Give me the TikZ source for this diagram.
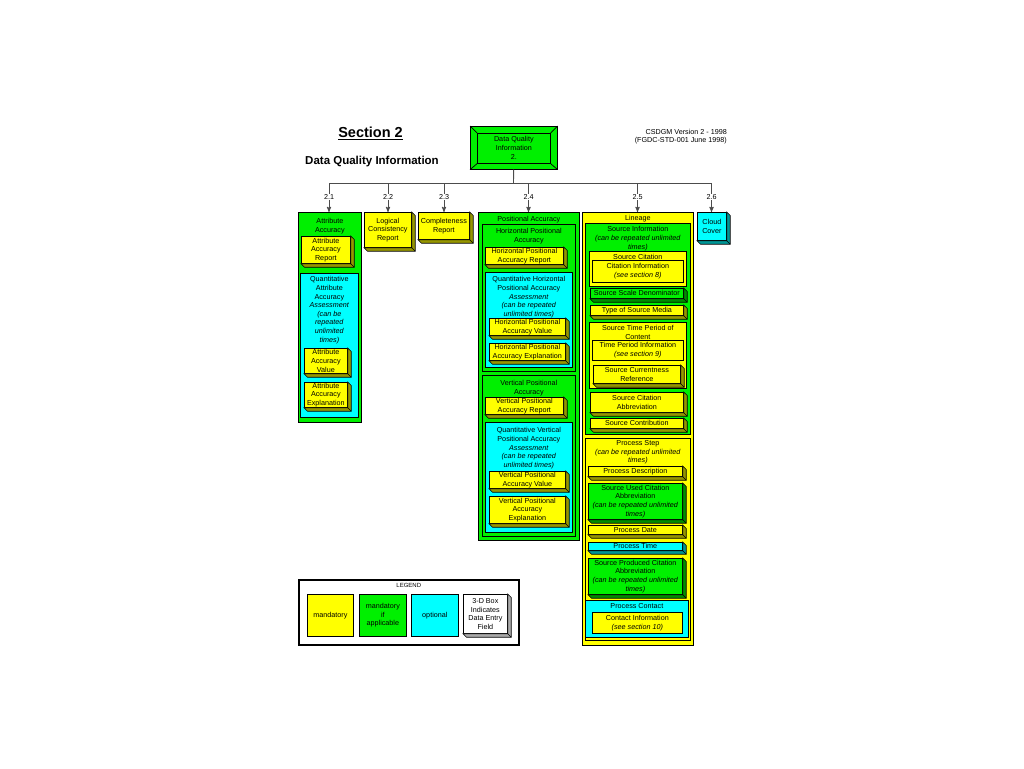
\documentclass[tikz,border=0pt]{standalone}
\usepackage{fontspec}
\setmainfont{Liberation Sans}
\usetikzlibrary{arrows}
\definecolor{dqyellow}{RGB}{255,255,0}
\definecolor{dqgreen}{RGB}{0,240,0}
\definecolor{dqcyan}{RGB}{0,255,255}
\definecolor{yshade}{RGB}{150,150,0}
\definecolor{gshade}{RGB}{0,140,0}
\definecolor{cshade}{RGB}{0,150,150}
\definecolor{wshade}{RGB}{170,170,170}
\newcommand{\dqfont}{\fontsize{7.2}{8.6}\selectfont}

\begin{document}
\begin{tikzpicture}[x=1pt,y=-1pt,
    box/.style={rectangle,draw,line width=0.7pt,inner sep=0pt,anchor=north west,
		align=center,font=\dqfont},
    field/.style={box,fill=#1},
    group/.style={box,fill=#1},
% Title of a group box
    title/.style={anchor=north,inner sep=0pt,align=center,font=\dqfont,yshift=#1},
    title/.default={-4pt},
    num/.style={inner sep=0.5pt,font=\dqfont},
    bus/.style={draw=black!70,line width=0.9pt},
    >=stealth'
    ]
    \useasboundingbox (0,0) rectangle (1024,768);

    % Header
    \node [font=\fontsize{14.5}{17}\selectfont\bfseries] (sect) at (370.5,133) {\underline{Section 2}};
    \node [font=\fontsize{11.5}{14}\selectfont\bfseries] (dqhead) at (372,162) {Data Quality Information};
    \node [font=\fontsize{7.2}{8}\selectfont,align=right,anchor=east,inner sep=0pt] (ver) at (727,137)
		{CSDGM Version 2 - 1998\\(FGDC-STD-001 June 1998)};
    \node [box,fill=dqgreen,minimum width=87pt,minimum height=43pt] (dqi) at (470,126) {};
    \node [box,fill=dqgreen,minimum width=73pt,minimum height=30pt,font=\fontsize{7.2}{9}\selectfont] (dqii) at (477,133)
		{Data Quality\\Information\\2.};
    \foreach \a in {north west,north east,south west,south east}
      \draw [line width=0.7pt] (dqi.\a) -- (dqii.\a);

    % 2.1 Attribute Accuracy
    \node [group=dqgreen,minimum width=63pt,minimum height=210pt,
		label={[title=-6.5pt]north:Attribute\\Accuracy}] (aa) at (298,212) {};
    \node [field=dqyellow,minimum width=49pt,minimum height=27pt] (aar) at (301,236) {Attribute\\Accuracy\\Report};
    \node [group=dqcyan,minimum width=58pt,minimum height=144pt,
		label={[title=-3.5pt]north:Quantitative\\Attribute\\Accuracy\\\textit{Assessment}\\\textit{(can be}\\\textit{repeated}\\\textit{unlimited}\\\textit{times)}}] (qaa) at (300,273) {};
    \node [field=dqyellow,minimum width=43pt,minimum height=25pt] (aav) at (304,348) {Attribute\\Accuracy\\Value};
    \node [field=dqyellow,minimum width=43pt,minimum height=25pt] (aae) at (304,382) {Attribute\\Accuracy\\Explanation};

    % 2.2 and 2.3
    \node [field=dqyellow,minimum width=47pt,minimum height=35pt] (lcr) at (364,212) {Logical\\Consistency\\Report};
    \node [field=dqyellow,minimum width=51pt,minimum height=27pt] (cr) at (418,212) {Completeness\\Report};

    % 2.4 Positional Accuracy
    \node [group=dqgreen,minimum width=101pt,minimum height=328pt,
		label={[title=-4.5pt]north:Positional Accuracy}] (pa) at (478,212) {};
    \node [group=dqgreen,minimum width=93pt,minimum height=147pt,
		label={[title=-4.5pt]north:Horizontal Positional\\Accuracy}] (hpa) at (482,224) {};
    \node [field=dqyellow,minimum width=78pt,minimum height=17pt] (hpar) at (485,247) {Horizontal Positional\\Accuracy Report};
    \node [group=dqcyan,minimum width=87pt,minimum height=95pt,
		label={[title=-4.5pt]north:Quantitative Horizontal\\Positional Accuracy\\\textit{Assessment}\\\textit{(can be repeated}\\\textit{unlimited times)}}] (hqa) at (485,272) {};
    \node [field=dqyellow,minimum width=76pt,minimum height=17pt] (hpav) at (489,318) {Horizontal Positional\\Accuracy Value};
    \node [field=dqyellow,minimum width=76pt,minimum height=17pt] (hpae) at (489,343) {Horizontal Positional\\Accuracy Explanation};
    \node [group=dqgreen,minimum width=93pt,minimum height=161pt,
		label={[title=-5.5pt]north:Vertical Positional\\Accuracy}] (vpa) at (482,375) {};
    \node [field=dqyellow,minimum width=78pt,minimum height=17pt] (vpar) at (485,397) {Vertical Positional\\Accuracy Report};
    \node [group=dqcyan,minimum width=87pt,minimum height=110pt,
		label={[title=-5.5pt]north:Quantitative Vertical\\Positional Accuracy\\\textit{Assessment}\\\textit{(can be repeated}\\\textit{unlimited times)}}] (vqa) at (485,422) {};
    \node [field=dqyellow,minimum width=76pt,minimum height=17pt] (vpav) at (489,471) {Vertical Positional\\Accuracy Value};
    \node [field=dqyellow,minimum width=76pt,minimum height=27pt] (vpae) at (489,496) {Vertical Positional\\Accuracy\\Explanation};

    % 2.5 Lineage
    \node [group=dqyellow,minimum width=111pt,minimum height=433pt,
		label={[title=-3.5pt]north:Lineage}] (lin) at (582,212) {};
    \node [group=dqgreen,minimum width=105pt,minimum height=211pt,
		label={[title=-3.5pt]north:Source Information\\\textit{(can be repeated unlimited}\\\textit{times)}}] (si) at (585,223) {};
    \node [group=dqyellow,minimum width=97pt,minimum height=35pt,
		label={[title=-3.5pt]north:Source Citation}] (sc) at (589,251) {};
    \node [box,fill=dqyellow,minimum width=91pt,minimum height=22pt] (ci) at (592,260) {Citation Information\\\textit{(see section 8)}};
    \node [field=dqgreen,minimum width=93pt,minimum height=10pt] (ssd) at (590,288) {Source Scale Denominator};
    \node [field=dqyellow,minimum width=93pt,minimum height=10pt] (tsm) at (590,305) {Type of Source Media};
    \node [group=dqyellow,minimum width=97pt,minimum height=66pt,
		label={[title=-3.5pt]north:Source Time Period of\\Content}] (stp) at (589,322) {};
    \node [box,fill=dqyellow,minimum width=91pt,minimum height=20pt] (tpi) at (592,340) {Time Period Information\\\textit{(see section 9)}};
    \node [field=dqyellow,minimum width=87pt,minimum height=18pt] (scr) at (593,365) {Source Currentness\\Reference};
    \node [field=dqyellow,minimum width=93pt,minimum height=20pt] (sca) at (590,392) {Source Citation\\Abbreviation};
    \node [field=dqyellow,minimum width=93pt,minimum height=10pt] (scn) at (590,418) {Source Contribution};
    \node [group=dqyellow,minimum width=105pt,minimum height=202pt,
		label={[title=-2.5pt]north:Process Step\\\textit{(can be repeated unlimited}\\\textit{times)}}] (ps) at (585,438) {};
    \node [field=dqyellow,minimum width=94pt,minimum height=10pt] (pd) at (588,466) {Process Description};
    \node [field=dqgreen,minimum width=94pt,minimum height=36pt] (suca) at (588,483)
		{Source Used Citation\\Abbreviation\\\textit{(can be repeated unlimited}\\\textit{times)}};
    \node [field=dqyellow,minimum width=94pt,minimum height=9pt] (pdt) at (588,525) {Process Date};
    \node [field=dqcyan,minimum width=94pt,minimum height=8pt] (ptime) at (588,542) {Process Time};
    \node [field=dqgreen,minimum width=94pt,minimum height=36pt] (spca) at (588,558)
		{Source Produced Citation\\Abbreviation\\\textit{(can be repeated unlimited}\\\textit{times)}};
    \node [group=dqcyan,minimum width=103pt,minimum height=37pt,
		label={[title=-3.5pt]north:Process Contact}] (pc) at (585,600) {};
    \node [box,fill=dqyellow,minimum width=90pt,minimum height=21pt] (coi) at (592,612) {Contact Information\\\textit{(see section 10)}};

    % 2.6 Cloud Cover
    \node [field=dqcyan,minimum width=29pt,minimum height=28pt] (cc) at (697,212) {Cloud\\Cover};

    % Legend
    \node [box,line width=1.6pt,minimum width=220pt,minimum height=65pt,
		label={[title=-4.5pt,font=\fontsize{6}{7}\selectfont]north:LEGEND}] (leg) at (298,579) {};
    \node [box,fill=dqyellow,minimum width=46pt,minimum height=42pt] (lm) at (307,594) {mandatory};
    \node [box,fill=dqgreen,minimum width=47pt,minimum height=42pt] (lma) at (359,594) {mandatory\\if\\applicable};
    \node [box,fill=dqcyan,minimum width=47pt,minimum height=42pt] (lo) at (411,594) {optional};
    \node [field=white,minimum width=44pt,minimum height=39pt] (l3d) at (463,594) {3-D Box\\Indicates\\Data Entry\\Field};

    % 3-D sides of the data entry fields
    \foreach \n/\c in {aar/yshade,aav/yshade,aae/yshade,lcr/yshade,cr/yshade,
		hpar/yshade,hpav/yshade,hpae/yshade,vpar/yshade,vpav/yshade,vpae/yshade,
		ssd/gshade,tsm/yshade,scr/yshade,sca/yshade,scn/yshade,pd/yshade,suca/gshade,
		pdt/yshade,ptime/cshade,spca/gshade,cc/cshade,l3d/wshade}
    {
      \draw [fill=\c,line width=0.6pt] (\n.north east) -- ++(3.5,3.5) -- ([shift={(3.5,3.5)}]\n.south east)
		-- ([shift={(3.5,3.5)}]\n.south west) -- (\n.south west) -- (\n.south east) -- cycle;
      \draw [line width=0.6pt] (\n.south east) -- ++(3.5,3.5);
    }

    % Tree of sections
    \coordinate (bus) at (513.5,183);
    \foreach \n/\x/\s in {21/329/2.1,22/388/2.2,23/444/2.3,24/528.5/2.4,25/637.5/2.5,26/711.5/2.6}
    {
      \node [num] (l\n) at (\x,197) {\s};
      \coordinate (b\n) at (\x,183);
    }
    \draw [bus] (dqi) -- (bus);
    \draw [bus] (b21) -- (b26);
    \foreach \n/\t in {21/aa,22/lcr,23/cr,24/pa,25/lin,26/cc}
    {
      \draw [bus] (b\n) -- (l\n);
      \draw [bus,->] (l\n) -- (l\n |- \t.north);
    }
\end{tikzpicture}
\end{document}
